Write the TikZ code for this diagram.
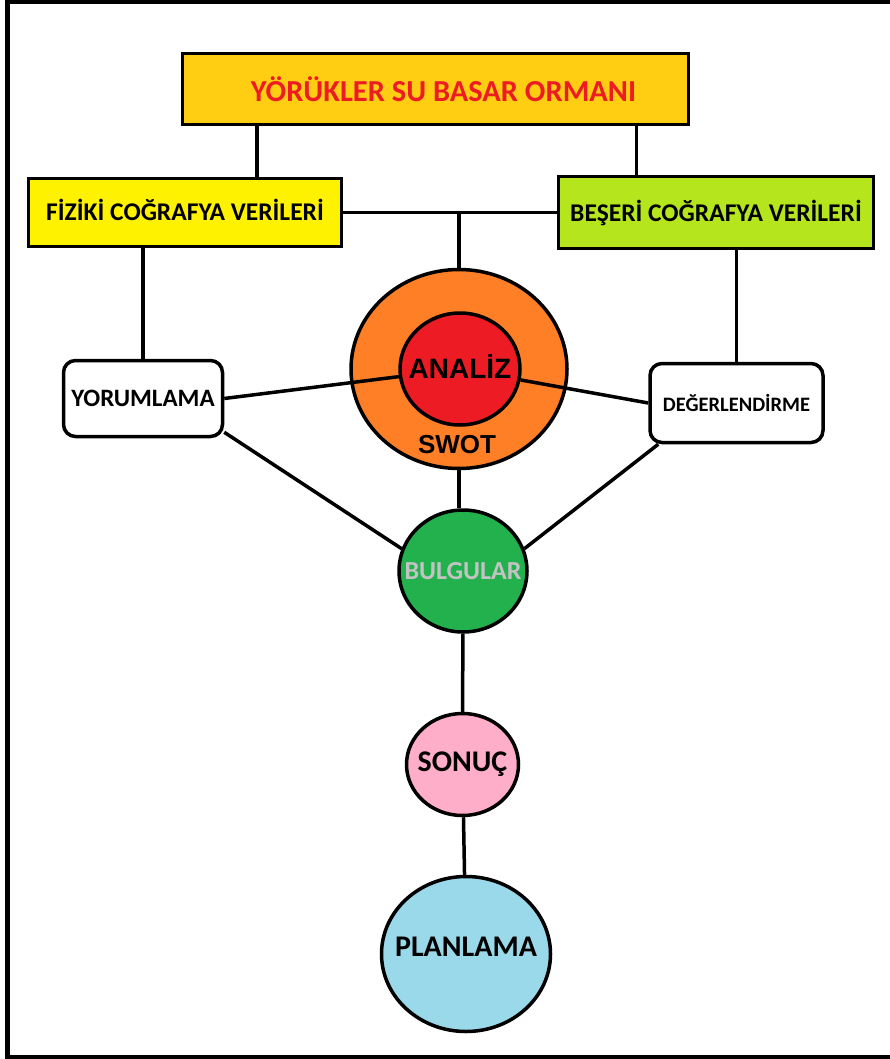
\documentclass[tikz,border=0pt]{standalone}
\usepackage{fontspec}
\setmainfont{Carlito}
\newfontfamily\arialfont{Liberation Sans}
\usetikzlibrary{shapes.geometric}

\definecolor{titlegold}{RGB}{255,205,18}
\definecolor{titlered}{RGB}{237,28,36}
\definecolor{fizikyellow}{RGB}{255,242,0}
\definecolor{beserilime}{RGB}{181,230,29}
\definecolor{swotorange}{RGB}{255,127,39}
\definecolor{analizred}{RGB}{237,28,36}
\definecolor{bulgugreen}{RGB}{34,177,76}
\definecolor{bulgugray}{RGB}{195,195,195}
\definecolor{sonucpink}{RGB}{255,174,201}
\definecolor{planblue}{RGB}{153,217,234}

\begin{document}
\begin{tikzpicture}[
    x=1pt, y=-1pt, % pixel-like units, y grows downwards
    line width=3.5pt, % thick black connectors
    every node/.style={
        draw, % black border round every node
        line width=3.5pt,
        align=center,
        font=\bfseries
    },
    every label/.style={draw=none, inner sep=0pt}, % texts inside the bubbles
    topbox/.style={rectangle, inner sep=0pt},
    roundbox/.style={rectangle, rounded corners=12pt, fill=white, inner sep=0pt},
    bubble/.style={ellipse, inner sep=0pt},
    word/.style={draw=none, fill=none, inner sep=0pt},
    big/.style={font=\fontsize{#1}{#1}\selectfont\bfseries},
    heavy/.style={font=\fontsize{#1}{#1}\selectfont\arialfont\bfseries}
]
\useasboundingbox (0,0) rectangle (890,1059);

% frame
\draw[line width=4pt] (890,2) -- (7.5,2);
\draw[line width=5pt] (7.5,0) -- (7.5,1057.5) -- (890,1057.5);

% boxes
\node[topbox, fill=titlegold, text=titlered, big=30.5, minimum width=506pt, minimum height=71pt] (title) at (435.5,89) {\hspace*{16pt}YÖRÜKLER SU BASAR ORMANI};
\node[topbox, fill=fizikyellow, big=25.5, minimum width=313pt, minimum height=68pt] (fiziki) at (185,212.5) {\raisebox{5pt}{FİZİKİ COĞRAFYA VERİLERİ}};
\node[topbox, fill=beserilime, big=25.5, minimum width=315pt, minimum height=72pt] (beseri) at (716,212.5) {BEŞERİ COĞRAFYA VERİLERİ};

\node[bubble, fill=swotorange, minimum width=216pt, minimum height=199pt] (swot) at (459,369) {};
\node[bubble, fill=analizred, minimum width=120pt, minimum height=112pt,
    label={[heavy=28, yshift=2pt]center:ANALİZ}] (analiz) at (460,369) {};
\node[word, heavy=26] (swotlbl) at (457,445) {SWOT};

\node[roundbox, big=25, minimum width=159pt, minimum height=76pt] (yorum) at (143,398.5) {YORUMLAMA};
\node[roundbox, big=20.5, minimum width=173pt, minimum height=79pt] (deger) at (736.5,403) {DEĞERLENDİRME};

\node[bubble, fill=bulgugreen, minimum width=128pt, minimum height=122pt,
    label={[big=26, text=bulgugray]center:BULGULAR}] (bulgu) at (463,571) {};
\node[bubble, fill=sonucpink, minimum width=112pt, minimum height=102pt,
    label={[big=30]center:SONUÇ}] (sonuc) at (462.5,764.5) {};
\node[bubble, fill=planblue, minimum width=169pt, minimum height=155pt,
    label={[big=30, yshift=7pt]center:PLANLAMA}] (plan) at (466,954) {};

% connectors
\draw ([xshift=76pt]title.south west) -- ([xshift=76pt]title.south west |- fiziki.north);
\draw ([xshift=-54pt]title.south east) -- ([xshift=-54pt]title.south east |- beseri.north);
\draw (fiziki.east) -- (beseri.west);
\draw (swot.north) -- (swot.north |- fiziki.east);
\draw (yorum.north) -- (yorum.north |- fiziki.south);
\draw (deger.north) -- (deger.north |- beseri.south);
\draw (yorum.east) -- (analiz);
\draw (deger.west) -- (analiz);
\draw ([yshift=6pt]yorum.south east) -- (bulgu.160);
\draw ([xshift=10pt]deger.south west) -- (bulgu.20);
\draw (swot.south) -- (swot.south |- bulgu.north);
\draw (bulgu) -- (sonuc);
\draw (sonuc) -- (plan);
\end{tikzpicture}
\end{document}
